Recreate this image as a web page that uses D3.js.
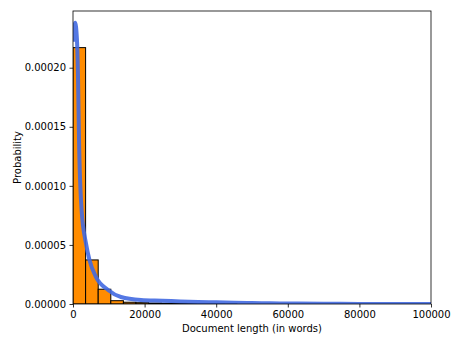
<!DOCTYPE html>
<html>
<head>
<meta charset="utf-8">
<script src="https://cdn.jsdelivr.net/npm/d3@7"></script>
<style>
  body { margin: 0; background: #fff; }
  text { font-family: "DejaVu Sans", sans-serif; }
</style>
</head>
<body>
<div id="chart"></div>
<script>
// Histogram bins (start of each bin, in words) and bin heights (probability density)
const binWidth = 3520;
const binStarts = [0, 3520, 7040, 10560, 14080, 17600, 21120, 24640, 28160, 31680, 35200, 38720, 42240];
const binValues = [0.000217, 0.0000373, 0.0000125, 0.0000028, 0.0000015, 0.0000011, 0.0000008, 0.0000006, 0.0000005, 0.0000004, 0.0000003, 0.0000003, 0.0000002];

// Density curve
const curveX = [0, 300, 600, 1100, 1400, 1700, 2400, 3600, 4600, 6400, 9800, 13400, 19000, 25000, 30000, 35000, 40000, 45000, 50000, 55000, 60000, 70000, 80000, 100000];
const curveY = [0.000222, 0.000234, 0.000238, 0.000224, 0.000192, 0.000136, 0.0000797, 0.0000517, 0.0000373, 0.0000229, 0.0000119, 0.0000059, 0.0000034, 0.0000028, 0.0000022, 0.0000017, 0.0000014, 0.0000011, 0.0000008, 0.0000006, 0.0000004, 0.0000002, 0.0000001, 0.00000005];

const xTicks = [0, 20000, 40000, 60000, 80000, 100000];
const yTicks = [0, 0.00005, 0.0001, 0.00015, 0.0002];

const W = 461, H = 346;
const margin = { top: 11, right: 30, bottom: 42, left: 73 };
const width = W - margin.left - margin.right;
const height = H - margin.top - margin.bottom;

const svg = d3.select("#chart")
  .append("svg")
  .attr("width", W)
  .attr("height", H)
  .append("g")
  .attr("transform", `translate(${margin.left},${margin.top})`);

const x = d3.scaleLinear().domain([0, 100000]).range([0, width]);
const y = d3.scaleLinear().domain([0, 0.000248]).range([height, 0]);

svg.append("clipPath").attr("id", "plotClip")
  .append("rect").attr("width", width).attr("height", height);

const plot = svg.append("g").attr("clip-path", "url(#plotClip)");

// Bars
plot.selectAll("rect.bar")
  .data(binStarts.map((s, i) => ({ s: s, v: binValues[i] })))
  .enter()
  .append("rect")
  .attr("class", "bar")
  .attr("x", d => x(d.s))
  .attr("y", d => y(d.v))
  .attr("width", d => x(d.s + binWidth) - x(d.s))
  .attr("height", d => height - y(d.v))
  .attr("fill", "#ff8c00")
  .attr("stroke", "#000")
  .attr("stroke-width", 1);

// Axes
const xAxis = svg.append("g")
  .attr("transform", `translate(0,${height})`)
  .call(d3.axisBottom(x).tickValues(xTicks).tickFormat(d3.format("d")).tickSizeOuter(0).tickSize(3.5).tickPadding(3.5));

const yAxis = svg.append("g")
  .call(d3.axisLeft(y).tickValues(yTicks).tickFormat(d3.format(".5f")).tickSizeOuter(0).tickSize(3.5).tickPadding(3.5));

[xAxis, yAxis].forEach(a => {
  a.selectAll("text").attr("font-size", 10).attr("fill", "#000").attr("font-family", "DejaVu Sans, sans-serif");
  a.selectAll("line").attr("stroke-width", 0.8);
  a.select(".domain").remove();
});

// Frame
svg.append("rect")
  .attr("width", width)
  .attr("height", height)
  .attr("fill", "none")
  .attr("stroke", "#000")
  .attr("stroke-width", 0.8);

// Density curve
plot.append("path")
  .datum(curveX.map((v, i) => [v, curveY[i]]))
  .attr("fill", "none")
  .attr("stroke", "royalblue")
  .attr("stroke-opacity", 0.9)
  .attr("stroke-width", 4)
  .attr("stroke-linejoin", "round")
  .attr("d", d3.line()
    .x(d => x(d[0]))
    .y(d => y(d[1]))
    .curve(d3.curveMonotoneX));

// Axis labels
svg.append("text")
  .attr("x", width / 2)
  .attr("y", height + 28)
  .attr("text-anchor", "middle")
  .attr("font-size", 10)
  .text("Document length (in words)");

svg.append("text")
  .attr("transform", "rotate(-90)")
  .attr("x", -height / 2)
  .attr("y", -52)
  .attr("text-anchor", "middle")
  .attr("font-size", 10)
  .text("Probability");
</script>
</body>
</html>
